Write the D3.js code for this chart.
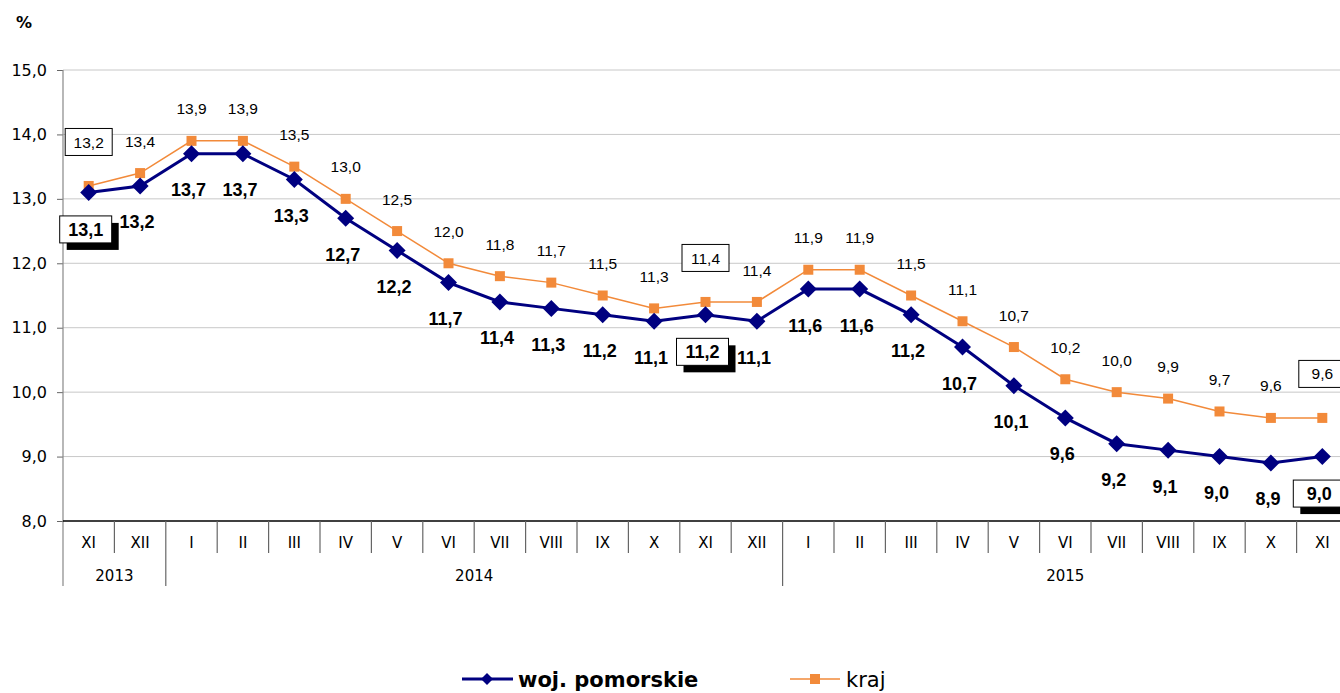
<!DOCTYPE html>
<html>
<head>
<meta charset="utf-8">
<script src="https://cdn.jsdelivr.net/npm/d3@7"></script>
<style>
  body { margin: 0; background: #fff; }
  svg { display: block; }
</style>
</head>
<body>
<svg id="chart" width="1340" height="693"></svg>
<script>
// months and years on the category axis
const months = ["XI", "XII", "I", "II", "III", "IV", "V", "VI", "VII", "VIII", "IX", "X", "XI", "XII",
                "I", "II", "III", "IV", "V", "VI", "VII", "VIII", "IX", "X", "XI"];
const years = [
  { year: "2013", from: 0, to: 2 },
  { year: "2014", from: 2, to: 14 },
  { year: "2015", from: 14, to: 25 }
];
const pomorskie = [13.1, 13.2, 13.7, 13.7, 13.3, 12.7, 12.2, 11.7, 11.4, 11.3, 11.2, 11.1, 11.2,
                   11.1, 11.6, 11.6, 11.2, 10.7, 10.1, 9.6, 9.2, 9.1, 9.0, 8.9, 9.0];
const kraj = [13.2, 13.4, 13.9, 13.9, 13.5, 13.0, 12.5, 12.0, 11.8, 11.7, 11.5, 11.3, 11.4,
              11.4, 11.9, 11.9, 11.5, 11.1, 10.7, 10.2, 10.0, 9.9, 9.7, 9.6, 9.6];
const boxed = [0, 12, 24]; // labels drawn in a frame
const yTicks = [8, 9, 10, 11, 12, 13, 14, 15];

const svg = d3.select("#chart");
const plotLeft = 63, plotTop = 70, plotBottom = 521, step = 51.4;

const x = d3.scaleBand()
    .domain(d3.range(months.length))
    .range([plotLeft, plotLeft + step * months.length]);
const y = d3.scaleLinear().domain([8, 15]).range([plotBottom, plotTop]);
const cx = i => x(i) + x.bandwidth() / 2;
const fmt = v => v.toFixed(1).replace(".", ",");

const navy = "#000080", orange = "#f28a3a";

// gridlines
svg.append("g").selectAll("line")
    .data(yTicks.slice(1))
    .enter().append("line")
    .attr("x1", plotLeft).attr("x2", 1340)
    .attr("y1", d => y(d)).attr("y2", d => y(d))
    .attr("stroke", "#c8c8c8").attr("stroke-width", 1);

// y axis
const yAxis = svg.append("g")
    .attr("transform", `translate(${plotLeft},0)`)
    .call(d3.axisLeft(y).tickValues(yTicks).tickFormat(fmt).tickSize(6).tickPadding(10));
yAxis.select(".domain").remove();
yAxis.selectAll(".tick line").attr("stroke", "#666");
yAxis.selectAll("text")
    .attr("font-family", "DejaVu Sans, Verdana, sans-serif")
    .attr("font-size", "16px").attr("fill", "#000");
svg.append("line")
    .attr("x1", plotLeft).attr("x2", plotLeft).attr("y1", plotTop).attr("y2", 586)
    .attr("stroke", "#888").attr("stroke-width", 1.2);

svg.append("text")
    .attr("x", 16).attr("y", 28)
    .attr("font-family", "DejaVu Sans, Verdana, sans-serif")
    .attr("font-size", "16px").attr("font-weight", "bold")
    .text("%");

// x axis with month / year separators
svg.append("line")
    .attr("x1", plotLeft).attr("x2", 1340).attr("y1", plotBottom).attr("y2", plotBottom)
    .attr("stroke", "#000").attr("stroke-width", 1.5);

const yearStarts = years.map(d => d.from).concat([years[years.length - 1].to]);
svg.append("g").selectAll("line")
    .data(d3.range(1, months.length + 1))
    .enter().append("line")
    .attr("x1", d => x(0) + d * x.bandwidth())
    .attr("x2", d => x(0) + d * x.bandwidth())
    .attr("y1", plotBottom)
    .attr("y2", d => yearStarts.includes(d) ? 586 : 553)
    .attr("stroke", "#666").attr("stroke-width", 1.2);

svg.append("g").selectAll("text")
    .data(months)
    .enter().append("text")
    .attr("x", (d, i) => cx(i))
    .attr("y", 548)
    .attr("text-anchor", "middle")
    .attr("font-family", "DejaVu Sans, Verdana, sans-serif")
    .attr("font-size", "15px")
    .text(d => d);

svg.append("g").selectAll("text")
    .data(years)
    .enter().append("text")
    .attr("x", d => (x(d.from) + x(0) + d.to * x.bandwidth()) / 2)
    .attr("y", 581)
    .attr("text-anchor", "middle")
    .attr("font-family", "DejaVu Sans, Verdana, sans-serif")
    .attr("font-size", "15px")
    .text(d => d.year);

// lines
const line = d3.line().x((d, i) => cx(i)).y(d => y(d));

svg.append("path")
    .datum(kraj)
    .attr("d", line)
    .attr("fill", "none").attr("stroke", orange).attr("stroke-width", 1.5);

svg.append("g").selectAll("rect")
    .data(kraj)
    .enter().append("rect")
    .attr("x", (d, i) => cx(i) - 5).attr("y", d => y(d) - 5)
    .attr("width", 10).attr("height", 10)
    .attr("fill", orange);

svg.append("path")
    .datum(pomorskie)
    .attr("d", line)
    .attr("fill", "none").attr("stroke", navy).attr("stroke-width", 3);

const diamond = s => `M0,${-s}L${s},0L0,${s}L${-s},0Z`;
svg.append("g").selectAll("path")
    .data(pomorskie)
    .enter().append("path")
    .attr("transform", (d, i) => `translate(${cx(i)},${y(d)})`)
    .attr("d", diamond(8.5))
    .attr("fill", navy);

// data labels
function addLabels(values, opts) {
    const g = svg.append("g");
    values.forEach((v, i) => {
        const isBoxed = boxed.includes(i);
        const lx = cx(i) + opts.dx;
        const ly = y(v) + (isBoxed ? opts.boxDy : opts.dy);
        if (isBoxed) {
            const w = opts.boxW, h = 27;
            if (opts.shadow) {
                g.append("rect")
                    .attr("x", lx - w / 2 + 7).attr("y", ly - h / 2 + 7)
                    .attr("width", w).attr("height", h).attr("fill", "#000");
            }
            g.append("rect")
                .attr("x", lx - w / 2).attr("y", ly - h / 2)
                .attr("width", w).attr("height", h)
                .attr("fill", "#fff").attr("stroke", "#000").attr("stroke-width", 1);
        }
        g.append("text")
            .attr("x", lx).attr("y", ly)
            .attr("dy", "0.36em")
            .attr("text-anchor", "middle")
            .attr("font-family", "Liberation Sans, Arial, sans-serif")
            .attr("font-size", opts.size)
            .attr("font-weight", opts.weight)
            .text(fmt(v));
    });
}

addLabels(kraj, { dx: 0, dy: -32, boxDy: -44, boxW: 47, size: "15.5px", weight: "normal", shadow: false });
addLabels(pomorskie, { dx: -3, dy: 36, boxDy: 37, boxW: 52, size: "18px", weight: "bold", shadow: true });

// legend
const legend = svg.append("g").attr("transform", "translate(0,679)");
legend.append("line").attr("x1", 462).attr("x2", 513).attr("stroke", navy).attr("stroke-width", 3);
legend.append("path").attr("transform", "translate(487,0)").attr("d", diamond(6)).attr("fill", navy);
legend.append("text")
    .attr("x", 518).attr("y", 8)
    .attr("font-family", "DejaVu Sans, Verdana, sans-serif")
    .attr("font-size", "21px").attr("font-weight", "bold")
    .text("woj. pomorskie");
legend.append("line").attr("x1", 790).attr("x2", 840).attr("stroke", orange).attr("stroke-width", 1.5);
legend.append("rect").attr("x", 810).attr("y", -5).attr("width", 10).attr("height", 10).attr("fill", orange);
legend.append("text")
    .attr("x", 846).attr("y", 8)
    .attr("font-family", "DejaVu Sans, Verdana, sans-serif")
    .attr("font-size", "21px")
    .text("kraj");
</script>
</body>
</html>
